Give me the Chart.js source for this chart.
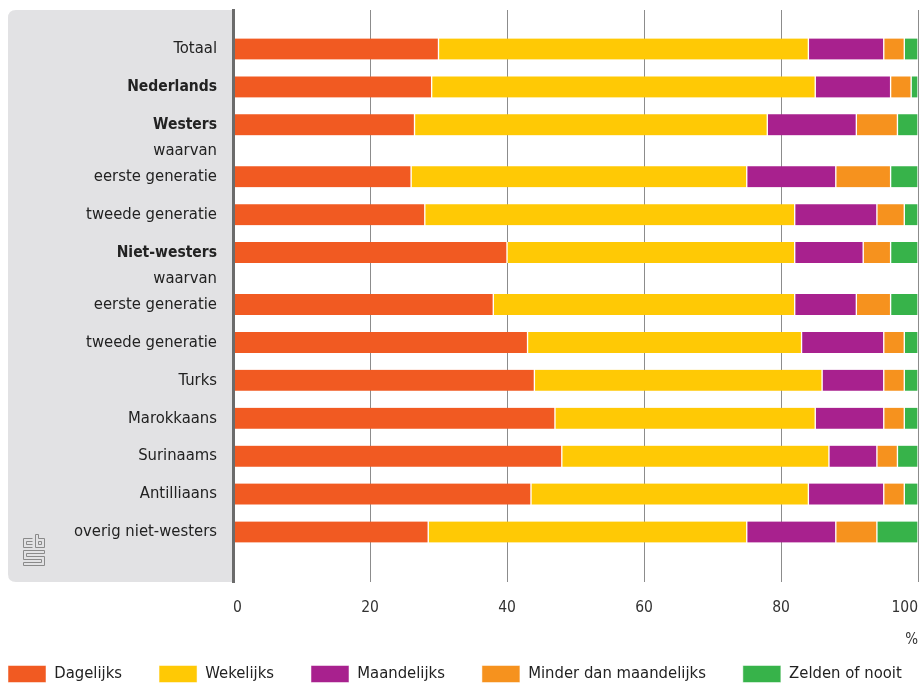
<!DOCTYPE html>
<html>
<head>
<meta charset="utf-8">
<script src="https://cdn.jsdelivr.net/npm/chart.js@4.4.1/dist/chart.umd.min.js"></script>
<style>
html,body{margin:0;padding:0;background:#fff;}
#wrap{width:924px;height:685px;position:relative;}
</style>
</head>
<body>
<div id="wrap"><canvas id="c"></canvas></div>
<script>
// ---- data ----
const categories = ['Totaal','Nederlands','Westers','waarvan','eerste generatie','tweede generatie','Niet-westers','waarvan','eerste generatie','tweede generatie','Turks','Marokkaans','Surinaams','Antilliaans','overig niet-westers'];
const boldCategories = ['Nederlands','Westers','Niet-westers'];
const headerCategories = ['waarvan'];
const seriesNames = ['Dagelijks','Wekelijks','Maandelijks','Minder dan maandelijks','Zelden of nooit'];
const dagelijks            = [30, 29, 26.5, null, 26, 28, 40, null, 38, 43, 44, 47, 48, 43.5, 28.5];
const wekelijks            = [54, 56, 51.5, null, 49, 54, 42, null, 44, 40, 42, 38, 39, 40.5, 46.5];
const maandelijks          = [11, 11, 13,   null, 13, 12, 10, null,  9, 12,  9, 10,  7, 11,   13];
const minderDanMaandelijks = [ 3,  3,  6,   null,  8,  4,  4, null,  5,  3,  3,  3,  3,  3,    6];
const zeldenOfNooit        = [ 2,  1,  3,   null,  4,  2,  4, null,  4,  2,  2,  2,  3,  2,    6];
const xTickValues = [0, 20, 40, 60, 80, 100];
const unitLabel = '%';

// ---- styling ----
const FONT = "'DejaVu Sans Condensed','DejaVu Sans','Liberation Sans Narrow',sans-serif";
const colors = ['#f15a22', '#ffc905', '#a8218e', '#f6921e', '#37b34a'];
const seriesValues = [dagelijks, wekelijks, maandelijks, minderDanMaandelijks, zeldenOfNooit];
const HEADER_ROW = 0.37;
const LEGEND_PAD = 37;
const PAD_LEFT = 8 - LEGEND_PAD;
const PAD_RIGHT = -40;

// row centres on the index axis (header rows are thinner)
const rowPos = [];
(function(){ let acc = 0; categories.forEach(c => { const h = headerCategories.includes(c) ? HEADER_ROW : 1; rowPos.push(acc + h / 2); acc += h; }); })();
const Y_MIN = rowPos[0] - 1.03;
const Y_MAX = rowPos[rowPos.length - 1] + 1.32;

const datasets = seriesNames.map((name, k) => ({
  label: name,
  data: categories.map((c, i) => ({ x: seriesValues[k][i], y: rowPos[i] })).filter(d => d.x !== null),
  backgroundColor: colors[k],
  borderColor: '#ffffff',
  borderWidth: { left: 1, right: 1, top: 0, bottom: 0 },
  borderSkipped: false,
  barThickness: 21
}));

const panelPlugin = {
  id: 'panel',
  beforeDraw(chart) {
    const { ctx, chartArea } = chart;
    const x0 = 8, x1 = chartArea.left, y0 = chartArea.top, y1 = chartArea.bottom, r = 8;
    ctx.save();
    ctx.fillStyle = '#e2e2e4';
    ctx.beginPath();
    ctx.moveTo(x1, y0);
    ctx.lineTo(x0 + r, y0);
    ctx.quadraticCurveTo(x0, y0, x0, y0 + r);
    ctx.lineTo(x0, y1 - r);
    ctx.quadraticCurveTo(x0, y1, x0 + r, y1);
    ctx.lineTo(x1, y1);
    ctx.closePath();
    ctx.fill();
    ctx.restore();
  },
  afterDraw(chart) {
    // small CBS-style logo mark
    const { ctx, chartArea } = chart;
    const x = 23.5, y = chartArea.bottom - 43.5;
    ctx.save();
    ctx.strokeStyle = '#8a8a8a';
    ctx.lineWidth = 1;
    ctx.beginPath();
    // c
    ctx.moveTo(x + 9, y); ctx.lineTo(x, y); ctx.lineTo(x, y + 9); ctx.lineTo(x + 9, y + 9);
    ctx.moveTo(x + 9, y + 3); ctx.lineTo(x + 3, y + 3); ctx.lineTo(x + 3, y + 6); ctx.lineTo(x + 9, y + 6);
    // b
    ctx.moveTo(x + 12, y - 4); ctx.lineTo(x + 12, y + 9); ctx.lineTo(x + 21, y + 9); ctx.lineTo(x + 21, y); ctx.lineTo(x + 15, y); ctx.lineTo(x + 15, y - 4); ctx.closePath();
    ctx.rect(x + 15, y + 3, 3, 3);
    // s meander
    ctx.moveTo(x + 21, y + 12); ctx.lineTo(x, y + 12); ctx.lineTo(x, y + 21); ctx.lineTo(x + 18, y + 21); ctx.lineTo(x + 18, y + 24); ctx.lineTo(x, y + 24); ctx.lineTo(x, y + 27); ctx.lineTo(x + 21, y + 27); ctx.lineTo(x + 21, y + 18); ctx.lineTo(x + 3, y + 18); ctx.lineTo(x + 3, y + 15); ctx.lineTo(x + 21, y + 15); ctx.closePath();
    ctx.stroke();
    ctx.restore();
  }
};

Chart.defaults.font.family = FONT;
Chart.defaults.font.size = 16;
Chart.defaults.color = '#222';

new Chart(document.getElementById('c'), {
  type: 'bar',
  data: { datasets },
  options: {
    indexAxis: 'y',
    responsive: true,
    maintainAspectRatio: false,
    animation: false,
    layout: { padding: { left: PAD_LEFT, right: PAD_RIGHT, top: 10, bottom: -7.5 } },
    plugins: {
      legend: {
        position: 'bottom',
        align: 'start',
        labels: { boxWidth: 38, boxHeight: 17, padding: LEGEND_PAD, color: '#222', font: { family: FONT, size: 16.5 } }
      },
      tooltip: { enabled: false }
    },
    scales: {
      x: {
        type: 'linear',
        stacked: true,
        min: 0, max: 100,
        afterBuildTicks: s => { s.ticks = xTickValues.map(v => ({ value: v })); },
        afterFit: s => { s.paddingLeft = 0; s.paddingRight = 6; s.height = 46.5; },
        grid: { color: '#8c8c8c', lineWidth: 1, drawTicks: false },
        border: { display: false },
        ticks: { align: 'inner', padding: 17, color: '#333', font: { family: FONT, size: 15.5 } },
        title: { display: true, text: unitLabel, align: 'end', color: '#333', font: { family: FONT, size: 15 }, padding: { top: 0, bottom: -20.5 } }
      },
      y: {
        type: 'linear',
        stacked: true,
        reverse: true,
        offset: false,
        bounds: 'data',
        min: Y_MIN,
        max: Y_MAX,
        afterBuildTicks: s => { s.min = Y_MIN; s.max = Y_MAX; s.ticks = rowPos.map(v => ({ value: v })); },
        afterFit: s => { s.width = 233 - PAD_LEFT; s.paddingTop = 0; s.paddingBottom = 0; },
        grid: { display: false, drawTicks: false, offset: false },
        border: { display: true, color: '#6b6b6b', width: 3, z: 1 },
        ticks: {
          autoSkip: false,
          padding: 16,
          color: '#222',
          callback: (v, i) => categories[i],
          font: ctx => {
            const b = boldCategories.includes(categories[ctx.index]);
            return { family: FONT, size: b ? 15.5 : 16.5, weight: b ? 'bold' : 'normal' };
          }
        }
      }
    }
  },
  plugins: [panelPlugin]
});
</script>
</body>
</html>
